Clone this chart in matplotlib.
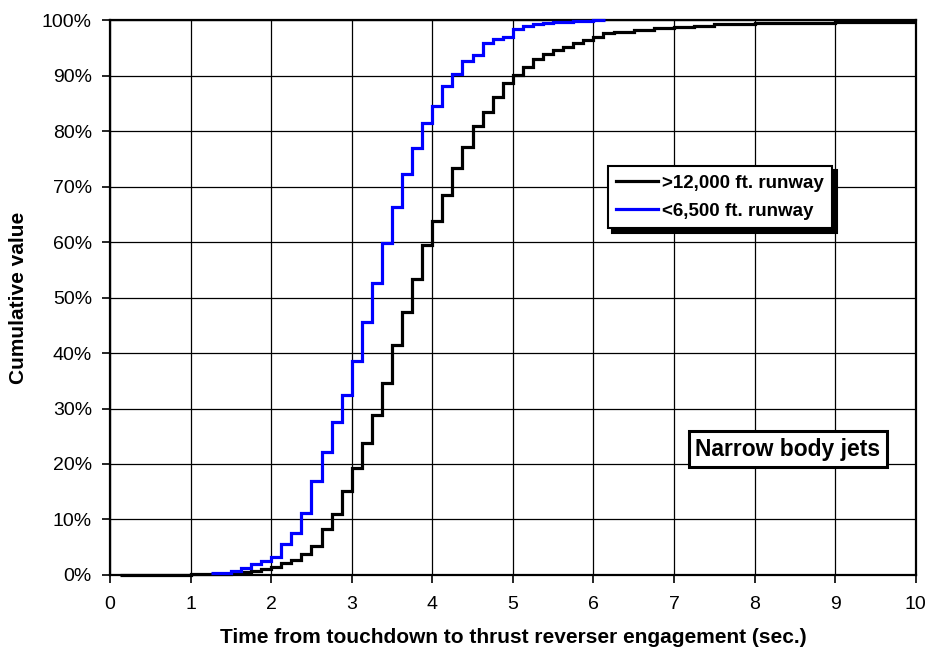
import matplotlib
matplotlib.use("Agg")
import matplotlib.pyplot as plt
from matplotlib.ticker import PercentFormatter
import numpy as np

plt.rcParams['font.family'] = ['Liberation Sans', 'DejaVu Sans']

# step edges (sec.) and cumulative share (%) held until the next edge
long_edges = [0.125, 1.0, 1.25, 1.5, 1.625, 1.75, 1.875, 2.0, 2.125, 2.25,
              2.375, 2.5, 2.625, 2.75, 2.875, 3.0, 3.125, 3.25, 3.375, 3.5,
              3.625, 3.75, 3.875, 4.0, 4.125, 4.25, 4.375, 4.5, 4.625, 4.75,
              4.875, 5.0, 5.125, 5.25, 5.375, 5.5, 5.625, 5.75, 5.875, 6.0,
              6.125, 6.25, 6.5, 6.75, 7.0, 7.25, 7.5, 8.0, 9.0, 10.0]
long_pct = [0.05, 0.1, 0.15, 0.3, 0.5, 0.7, 1.1, 1.5, 2.1, 2.7,
            3.8, 5.3, 8.3, 11.0, 15.1, 19.2, 23.7, 28.9, 34.6, 41.4,
            47.4, 53.3, 59.4, 63.8, 68.5, 73.4, 77.2, 80.9, 83.5, 86.2,
            88.6, 90.1, 91.6, 92.9, 93.8, 94.6, 95.2, 95.8, 96.4, 97.0,
            97.6, 97.9, 98.2, 98.5, 98.7, 99.0, 99.2, 99.5, 99.7]

short_edges = [1.25, 1.5, 1.625, 1.75, 1.875, 2.0, 2.125, 2.25, 2.375, 2.5,
               2.625, 2.75, 2.875, 3.0, 3.125, 3.25, 3.375, 3.5, 3.625, 3.75,
               3.875, 4.0, 4.125, 4.25, 4.375, 4.5, 4.625, 4.75, 4.875, 5.0,
               5.125, 5.25, 5.375, 5.5, 5.75, 6.0, 6.15]
short_pct = [0.4, 0.8, 1.2, 2.0, 2.6, 3.2, 5.5, 7.5, 11.2, 16.9,
             22.2, 27.5, 32.5, 38.5, 45.6, 52.7, 59.8, 66.3, 72.2, 76.9,
             81.4, 84.5, 88.1, 90.3, 92.7, 93.7, 95.8, 96.5, 97.0, 98.3,
             98.9, 99.3, 99.5, 99.6, 99.8, 100.0]

fig = plt.figure(figsize=(9.3, 6.54), dpi=100)
ax = fig.add_axes([0.1183, 0.1208, 0.8663, 0.8486])

ax.stairs(long_pct, long_edges, color='black', lw=2.3, baseline=None,
          label='>12,000 ft. runway', zorder=3, clip_on=False)
ax.stairs(short_pct, short_edges, color='#0000ff', lw=2.3, baseline=None,
          label='<6,500 ft. runway', zorder=4, clip_on=False)

ax.set_xlim(0, 10)
ax.set_ylim(0, 100)
ax.set_xticks(np.arange(0, 11, 1))
ax.set_yticks(np.arange(0, 101, 10))
ax.yaxis.set_major_formatter(PercentFormatter(decimals=0))
ax.grid(True, color='black', lw=0.9)
ax.set_axisbelow(True)
for s in ax.spines.values():
    s.set_linewidth(1.6)
ax.tick_params(direction='out', length=6, width=1.2, labelsize=14)
ax.tick_params(axis='x', pad=9)
ax.tick_params(axis='y', pad=7)

ax.set_xlabel('Time from touchdown to thrust reverser engagement (sec.)',
              fontsize=15, fontweight='bold', labelpad=11)
ax.set_ylabel('Cumulative value', fontsize=15, fontweight='bold')
ax.yaxis.set_label_coords(-0.102, 0.5)

leg = ax.legend(loc='upper left', bbox_to_anchor=(0.618, 0.737), borderaxespad=0,
                fancybox=False, edgecolor='black', framealpha=1,
                shadow={'color': 'black', 'alpha': 1, 'ox': 3, 'oy': -3},
                prop={'weight': 'bold', 'size': 13.5}, handlelength=2.2,
                handletextpad=0.25, borderpad=0.45, labelspacing=0.6)
leg.get_frame().set_linewidth(1.5)

ax.text(0.8415, 0.227, 'Narrow body jets', transform=ax.transAxes,
        ha='center', va='center', fontsize=16.5, fontweight='bold', zorder=6,
        bbox=dict(boxstyle='square,pad=0.3', fc='white', ec='black', lw=2.2))

fig.savefig('out.png', dpi=100)
